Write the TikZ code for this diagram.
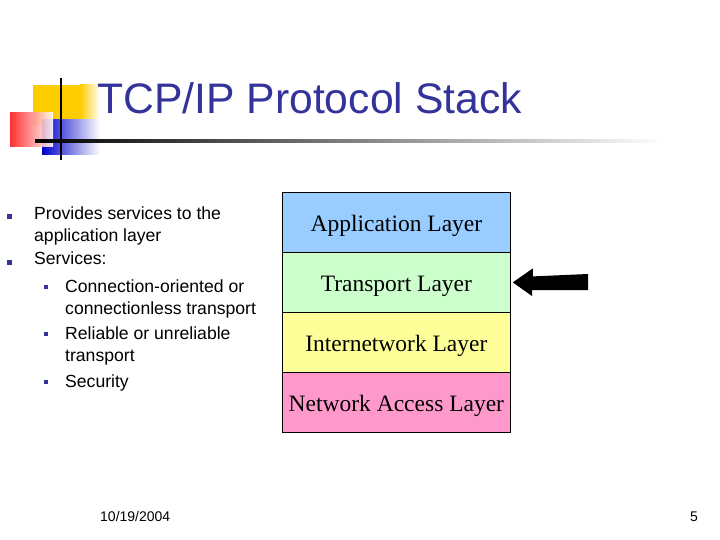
\documentclass[tikz,border=0pt]{standalone}
\usepackage{fontspec}
\setmainfont{Liberation Sans}
\newfontfamily\serif{Liberation Serif}
\usetikzlibrary{shadings}
\definecolor{navy}{RGB}{51,51,153}
\definecolor{gold}{RGB}{255,204,0}
\definecolor{appc}{RGB}{153,204,255}
\definecolor{trc}{RGB}{204,255,204}
\definecolor{inc}{RGB}{255,255,153}
\definecolor{nac}{RGB}{255,153,204}
\begin{document}
\begin{tikzpicture}[x=1pt,y=-1pt,
  layer/.style={draw=black,line width=0.8pt,minimum width=228pt,minimum height=60pt,anchor=north west,inner sep=0pt},
  ltxt/.style={inner sep=0pt,yshift=-3.5pt,font=\serif\fontsize{23.5}{28}\selectfont},
  txt/.style={anchor=base west,inner sep=0pt,font=\fontsize{17.6}{20}\selectfont},
  bul/.style={fill=navy,minimum size=5pt,inner sep=0pt}]
\useasboundingbox (0,0) rectangle (720,540);
% logo
\fill[gold] (33,85) rectangle (80,125);
\shade[left color=gold,right color=white] (80,85) rectangle (100,125);
\shade[left color=blue!80!black,right color=white] (42,120) rectangle (100,155);
\shade[left color=red!90!white,right color=white,opacity=0.9] (10,113) rectangle (53,147);
\draw[line width=2pt] (61,78) -- (61,160);
\shade[left color=black,right color=white] (35,140) rectangle (665,142.5);
% title
\node[anchor=base west,inner sep=0pt,text=navy,font=\fontsize{42.7}{50}\selectfont] (title) at (97,114) {TCP/IP Protocol Stack};
% bullets
\node[bul] (b1) at (9,217) {};
\node[bul] (b2) at (9,262) {};
\node[txt] (t1) at (34,219) {Provides services to the};
\node[txt] (t2) at (34,241) {application layer};
\node[txt] (t3) at (34,264) {Services:};
\node[bul,minimum size=4.5pt] (s1) at (46,287) {};
\node[txt] (t4) at (65,292) {Connection-oriented or};
\node[txt] (t5) at (65,314) {connectionless transport};
\node[bul,minimum size=4.5pt] (s2) at (46,334) {};
\node[txt] (t6) at (65,339) {Reliable or unreliable};
\node[txt] (t7) at (65,361) {transport};
\node[bul,minimum size=4.5pt] (s3) at (46,382) {};
\node[txt] (t8) at (65,387) {Security};
% layers
\node[layer,fill=appc] (app) at (282,192) {};
\node[layer,fill=trc] (tr) at (282,252) {};
\node[layer,fill=inc] (inl) at (282,312) {};
\node[layer,fill=nac] (na) at (282,372) {};
\node[ltxt] (appl) at (app.center) {Application Layer};
\node[ltxt] (trl) at (tr.center) {Transport Layer};
\node[ltxt] (inll) at (inl.center) {Internetwork Layer};
\node[ltxt] (nal) at (na.center) {Network Access Layer};
% arrow
\fill (tr.east) ++(2,0) -- ++(20,-14) -- ++(0,8) -- (588,274) -- (588,290) -- (532,290) -- (532,296) -- cycle;
% footer
\node[anchor=base west,inner sep=0pt,font=\fontsize{14}{16}\selectfont] (date) at (100,521) {10/19/2004};
\node[anchor=base east,inner sep=0pt,font=\fontsize{14}{16}\selectfont] (pg) at (698,521) {5};
\end{tikzpicture}
\end{document}
